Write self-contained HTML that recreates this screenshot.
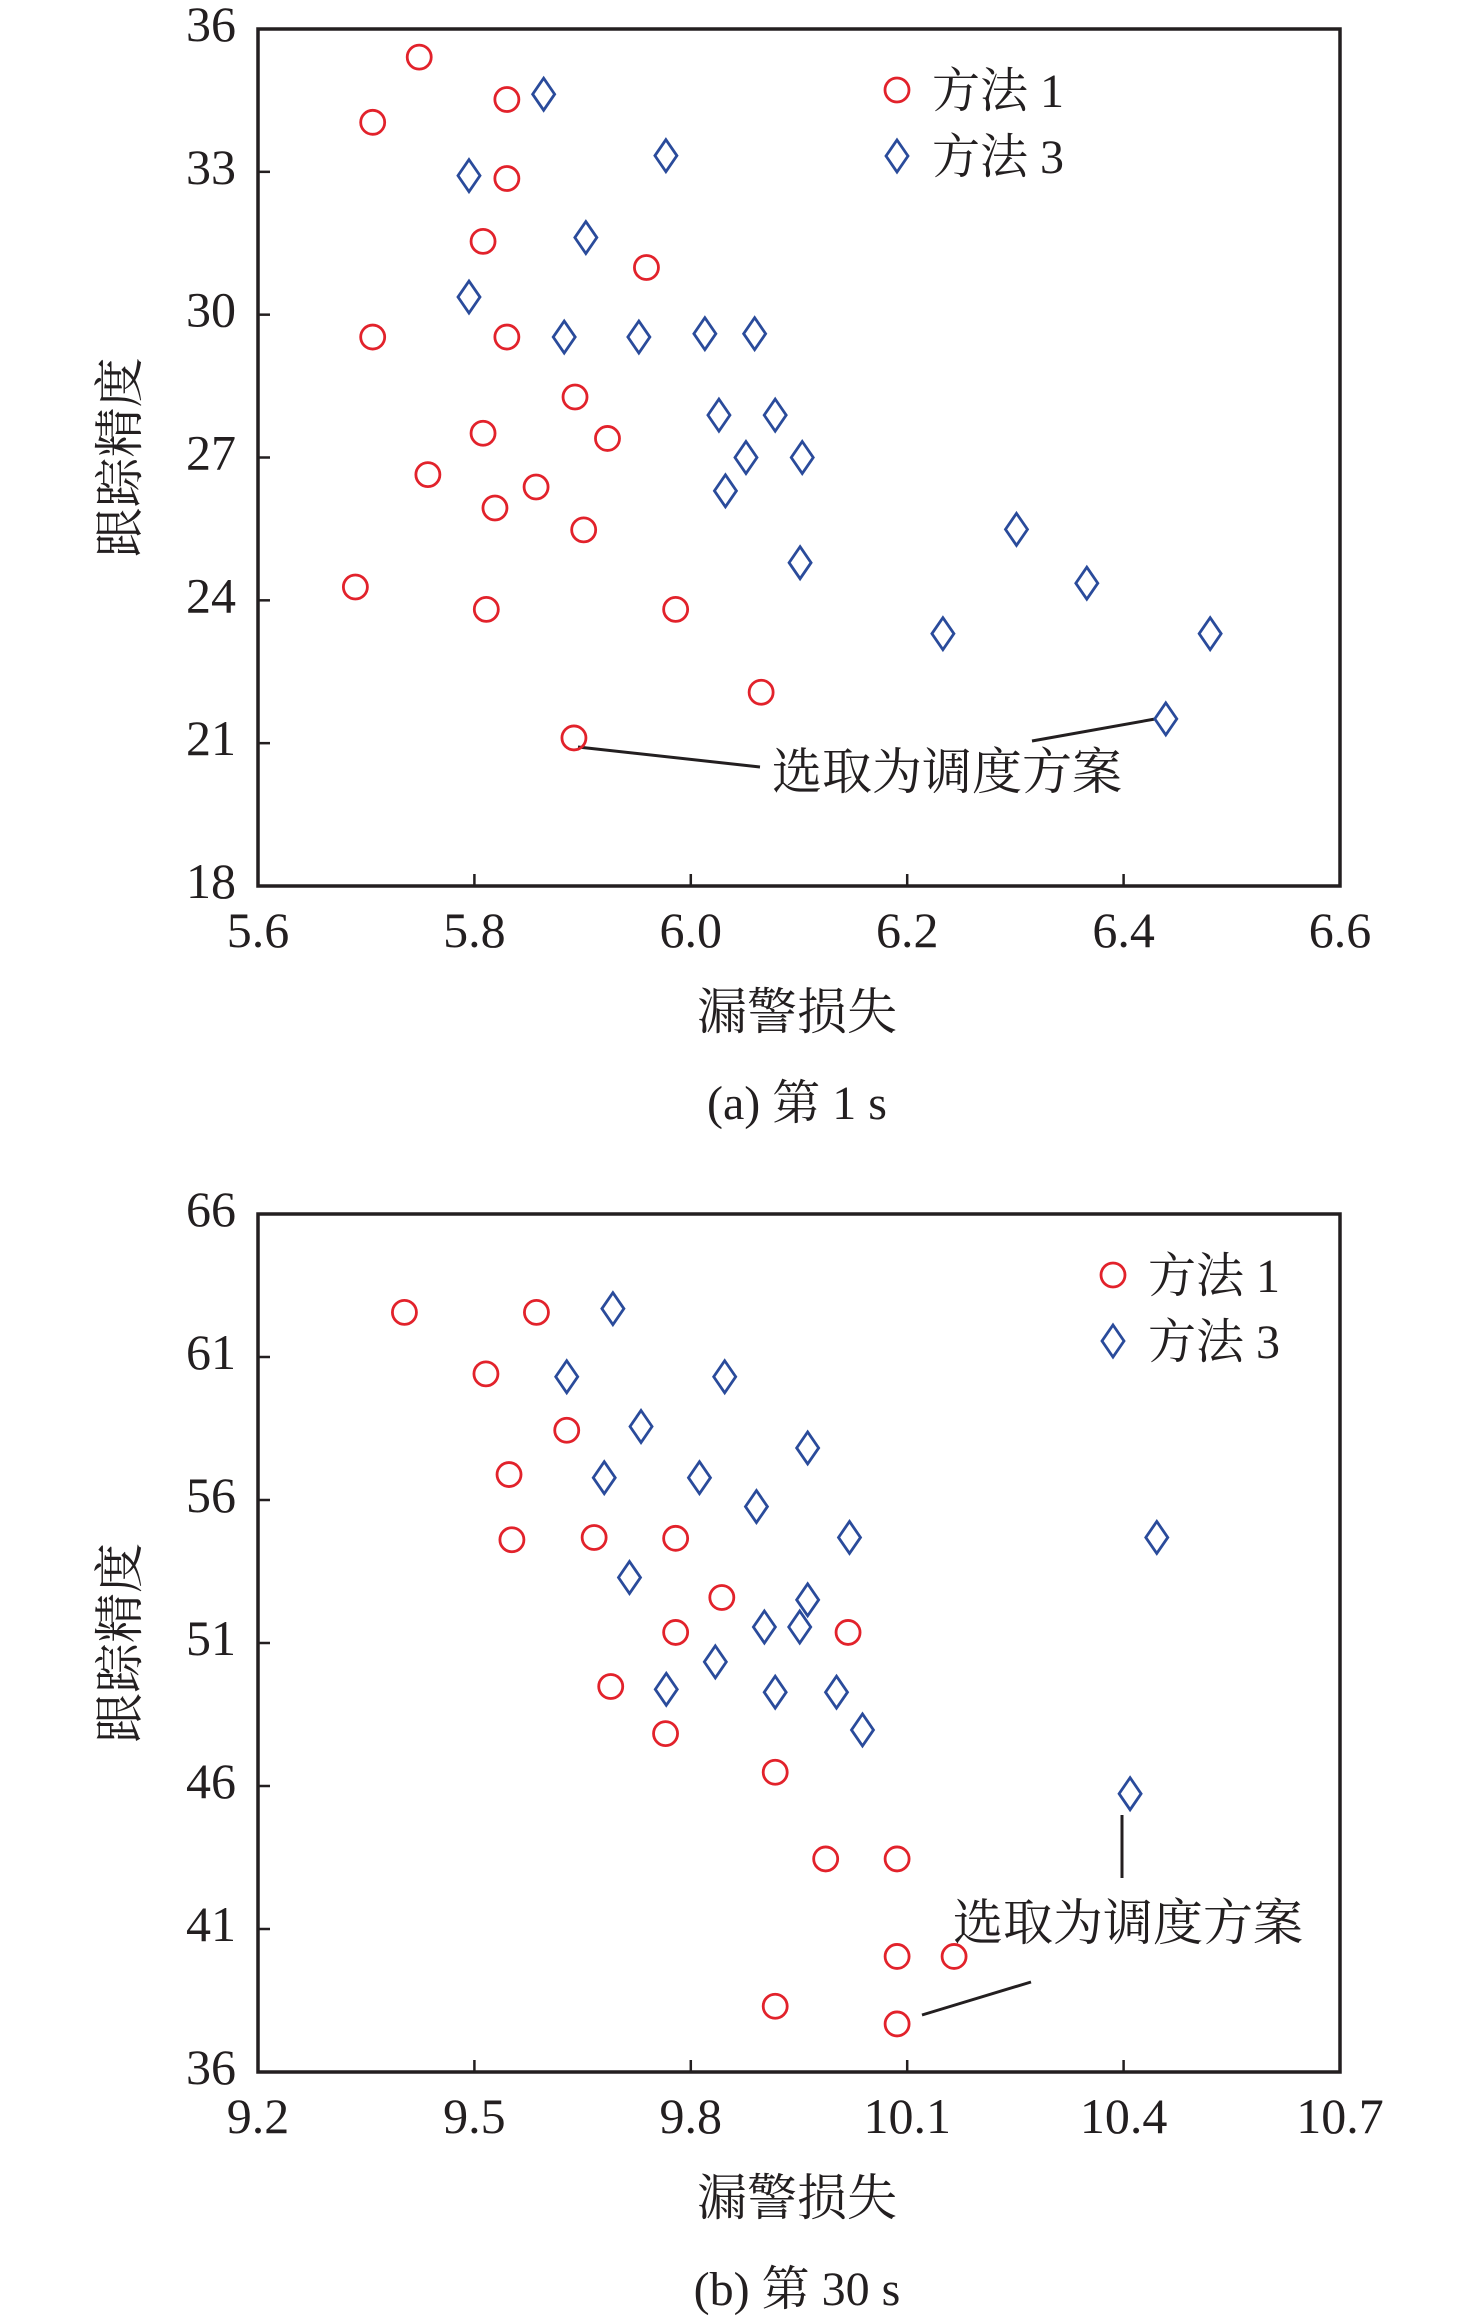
<!DOCTYPE html>
<html><head><meta charset="utf-8"><style>
html,body{margin:0;padding:0;background:#fff;}
svg{display:block;}
text{font-family:"Liberation Serif","Noto Serif CJK SC","Noto Sans CJK SC",serif;fill:#231f20;}
</style></head><body>
<svg id="chart" width="1476" height="2322" viewBox="0 0 1476 2322" xmlns="http://www.w3.org/2000/svg"></svg>
<script>
// Panel (a) data
const aXTicks = [5.6, 5.8, 6.0, 6.2, 6.4, 6.6];
const aXTickLabels = ["5.6","5.8","6.0","6.2","6.4","6.6"];
const aYTicks = [18, 21, 24, 27, 30, 33, 36];
const aM1X = [5.749,5.706,5.830,5.830,5.808,5.959,5.706,5.830,5.893,5.808,5.923,5.757,5.857,5.819,5.901,5.690,5.811,5.986,6.065,5.892];
const aM1Y = [35.41,34.04,34.52,32.86,31.54,30.99,29.53,29.53,28.27,27.51,27.40,26.64,26.38,25.94,25.48,24.28,23.81,23.81,22.07,21.11];
const aM3X = [5.864,5.977,5.795,5.903,5.795,5.883,5.952,6.013,6.059,6.026,6.078,6.051,6.103,6.032,6.101,6.233,6.301,6.366,6.480,6.439];
const aM3Y = [34.63,33.34,32.92,31.62,30.37,29.53,29.53,29.60,29.60,27.89,27.89,27.00,27.00,26.30,24.79,23.30,25.49,24.36,23.30,21.51];
// Panel (b) data
const bXTicks = [9.2, 9.5, 9.8, 10.1, 10.4, 10.7];
const bXTickLabels = ["9.2","9.5","9.8","10.1","10.4","10.7"];
const bYTicks = [36, 41, 46, 51, 56, 61, 66];
const bM1X = [9.403,9.586,9.516,9.628,9.548,9.552,9.666,9.779,9.843,9.779,10.018,9.689,9.765,9.917,9.987,10.086,10.086,10.165,9.917,10.086];
const bM1Y = [62.56,62.56,60.41,58.44,56.89,54.61,54.69,54.66,52.59,51.37,51.37,49.48,47.83,46.48,43.45,43.45,40.04,40.04,38.30,37.68];
const bM3X = [9.692,9.628,9.847,9.731,9.962,9.680,9.812,9.891,10.020,10.446,9.715,9.962,9.902,9.951,9.834,9.766,9.917,10.002,10.038,10.409];
const bM3Y = [62.69,60.31,60.31,58.57,57.82,56.78,56.78,55.77,54.69,54.69,53.29,52.51,51.56,51.56,50.34,49.38,49.28,49.28,47.96,45.73];

const NS = "http://www.w3.org/2000/svg";
const svg = document.getElementById('chart');
function mk(tag, attrs, parent){
  const e = document.createElementNS(NS, tag);
  for (const k in attrs) e.setAttribute(k, attrs[k]);
  (parent||svg).appendChild(e);
  return e;
}
function panel(p){
  const g = mk('g', {});
  
  
  const L=258, R=1340, T=p.top, B=p.bottom;
  const xs = v => L + (v - p.xmin)/(p.xmax - p.xmin)*(R-L);
  const ys = v => B - (v - p.ymin)/(p.ymax - p.ymin)*(B-T);
  const frame = mk('rect', {x:L, y:T, width:R-L, height:B-T, fill:'none', stroke:'#231f20', 'stroke-width':3.5}, g);
  
  
  p.xt.forEach((v,i)=>{
    const x = xs(v);
    if(i>0 && i<p.xt.length-1){ mk('line',{x1:x,y1:B,x2:x,y2:B-12,stroke:'#231f20','stroke-width':2.5},g); }
    const t = mk('text',{x:x,y:B+61,'font-size':50,'text-anchor':'middle'},g);
    t.textContent = p.xl[i];
    
    
  });
  p.yt.forEach((v,i)=>{
    const y = ys(v);
    if(i>0 && i<p.yt.length-1){ mk('line',{x1:L,y1:y,x2:L+12,y2:y,stroke:'#231f20','stroke-width':2.5},g); }
    const t = mk('text',{x:236,y:y+12,'font-size':50,'text-anchor':'end'},g);
    t.textContent = String(v);
    
    
  });
  const yt = mk('text',{x:0,y:0,'font-size':50,'text-anchor':'middle',transform:`translate(137,${(T+B)/2}) rotate(-90)`},g);
  yt.textContent = '跟踪精度';
  
  
  const xt = mk('text',{x:797,y:B+143,'font-size':50,'text-anchor':'middle'},g);
  xt.textContent = '漏警损失';
  
  
  const cap = mk('text',{x:797,y:B+233,'font-size':48,'text-anchor':'middle'},g);
  cap.textContent = p.caption;
  
  
  p.lines.forEach(l=>{
    const ln = mk('line',{x1:l[0],y1:l[1],x2:l[2],y2:l[3],stroke:'#231f20','stroke-width':3},g);
    
    
  });
  const at = mk('text',{x:p.ann[0],y:p.ann[1],'font-size':50},g);
  at.textContent = '选取为调度方案';
  
  
  p.m1x.forEach((v,i)=>{
    const c = mk('circle',{cx:xs(v),cy:ys(p.m1y[i]),r:12,fill:'none',stroke:'#e2222b','stroke-width':2.8},g);
    
    
  });
  p.m3x.forEach((v,i)=>{
    const x=xs(v), y=ys(p.m3y[i]);
    const d = mk('polygon',{points:`${x},${y-16} ${x+11},${y} ${x},${y+16} ${x-11},${y}`,fill:'none',stroke:'#2a4b9b','stroke-width':2.8},g);
    
    
  });
  const lx = p.leg[0], ly = p.leg[1];
  const lc = mk('circle',{cx:lx,cy:ly,r:12,fill:'none',stroke:'#e2222b','stroke-width':2.8},g);
  
  
  const l1 = mk('text',{x:lx+35,y:ly+17,'font-size':48},g);
  l1.textContent = '方法 1';
  
  
  const ly2 = ly+66;
  const ld = mk('polygon',{points:`${lx},${ly2-16} ${lx+11},${ly2} ${lx},${ly2+16} ${lx-11},${ly2}`,fill:'none',stroke:'#2a4b9b','stroke-width':2.8},g);
  
  
  const l3 = mk('text',{x:lx+35,y:ly2+17,'font-size':48},g);
  l3.textContent = '方法 3';
  
  
}
panel({name:'panel-a', top:29, bottom:886, xmin:5.6, xmax:6.6, ymin:18, ymax:36,
  xt:aXTicks, xl:aXTickLabels, yt:aYTicks, m1x:aM1X, m1y:aM1Y, m3x:aM3X, m3y:aM3Y,
  caption:'(a) 第 1 s', leg:[897,90], ann:[772,789],
  lines:[[578,747,760,767],[1032,741,1155,719]]});
panel({name:'panel-b', top:1214, bottom:2072, xmin:9.2, xmax:10.7, ymin:36, ymax:66,
  xt:bXTicks, xl:bXTickLabels, yt:bYTicks, m1x:bM1X, m1y:bM1Y, m3x:bM3X, m3y:bM3Y,
  caption:'(b) 第 30 s', leg:[1113,1275], ann:[953,1940],
  lines:[[1122,1815,1122,1878],[922,2015,1031,1982]]});
</script>
</body></html>
